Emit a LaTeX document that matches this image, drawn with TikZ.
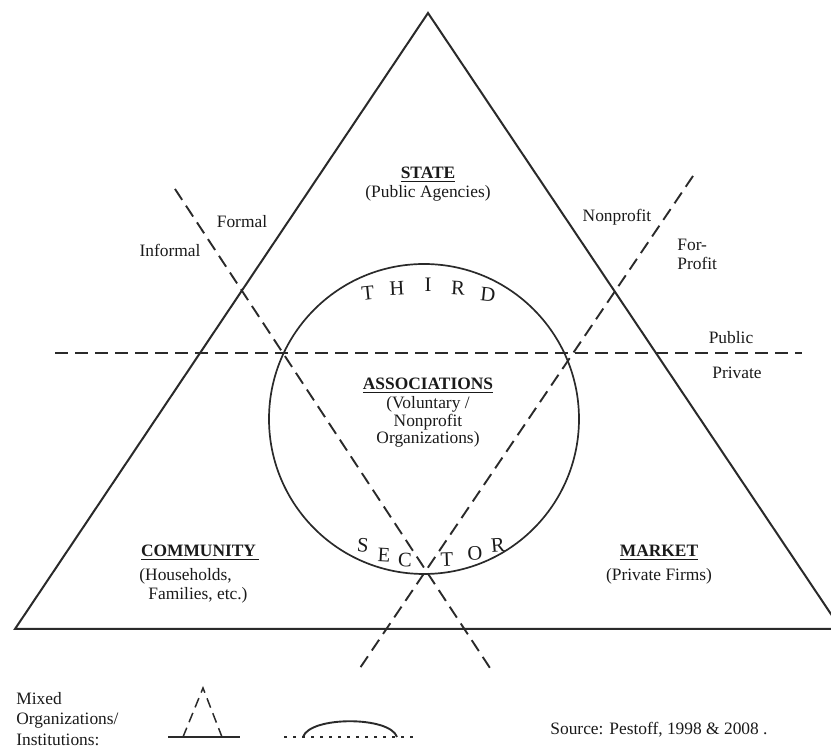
\documentclass[tikz,border=0pt]{standalone}
\usepackage{fontspec}
\setmainfont{Liberation Serif}
\usetikzlibrary{calc}
\definecolor{ink}{HTML}{1A1A1A}
\definecolor{rule}{HTML}{2A2A2A}
\newcommand{\FigBody}{\fontsize{8.7}{9.4}\selectfont}
\newcommand{\FigTight}{\fontsize{8.7}{8.8}\selectfont}
\newcommand{\FigHead}{\FigBody\bfseries}
\newcommand{\FigKey}{\fontsize{8.7}{10.2}\selectfont}
\newcommand{\FigArc}{\fontsize{10.3}{11}\selectfont}
\tikzset{
  frame line/.style={rule, line width=1pt, line join=miter},
  split line/.style={rule, line width=0.95pt, dash pattern=on 6.5pt off 3.5pt},
  lbl/.style={font=\FigBody, ink, inner sep=0pt},
  head/.style={font=\FigHead, ink, inner sep=0pt},
  arc letter/.style={font=\FigArc, ink, inner sep=0pt},
}

\begin{document}
\begin{tikzpicture}[x=0.5pt,y=-0.5pt]
  \useasboundingbox (0,0) rectangle (831,747);
  \clip (0,0) rectangle (831,747);

  % welfare triangle
  \coordinate (apex) at (428,13);
  \coordinate (baseL) at (15,629);
  \coordinate (baseR) at (841,629);
  \draw[frame line] (apex) -- (baseL) -- (baseR) -- cycle;

  % third sector circle
  \coordinate (hub) at (424,419);
  \draw[rule, line width=0.85pt] (hub) circle [radius=155];

  % dividing lines
  \coordinate (publicL) at (55,353);
  \coordinate (publicR) at (802,353);
  \coordinate (formalTop) at (175,189);
  \coordinate (formalEnd) at (490,668);
  \coordinate (profitTop) at (693,176);
  \coordinate (profitEnd) at (360,668);
  \draw[split line] (publicL) -- (publicR);
  \draw[split line] (formalTop) -- (formalEnd);
  \draw[split line] (profitTop) -- (profitEnd);

  % sector headings
  \node[head] (state) at (428,175) {\underline{STATE}};
  \node[lbl] (stateSub) at (428,193) {(Public Agencies)};
  \node[head] (assoc) at (428,386) {\underline{ASSOCIATIONS}};
  \node[lbl, font=\FigTight, align=center] (assocSub) at (428,422) {(Voluntary /\\Nonprofit\\Organizations)};
  \node[head] (community) at (200,553) {\underline{COMMUNITY\,}};
  \node[lbl, align=left, anchor=west] (communitySub) at (139,586) {(Households,\\\hspace*{4.5pt}Families, etc.)};
  \node[head] (market) at (659,553) {\underline{MARKET}};
  \node[lbl] (marketSub) at (659,576) {(Private Firms)};

  % border labels
  \node[lbl] (formal) at (242,222) {Formal};
  \node[lbl] (informal) at (170,250) {Informal};
  \node[lbl] (nonprofit) at (617,217) {Nonprofit};
  \node[lbl, align=left, anchor=west] (forprofit) at (677,254) {For-\\Profit};
  \node[lbl] (public) at (731,338) {Public};
  \node[lbl] (private) at (737,373) {Private};

  % letters round the circle
  \foreach \ch/\px/\py/\rot [count=\i] in {T/368/293/6, H/397/288/3, I/428/285/0, R/458/288/-3, D/488/295/-6}
    \node[arc letter, rotate=\rot] (third\i) at (\px,\py) {\ch};
  \foreach \ch/\px/\py/\rot [count=\i] in {S/363/545/-5, E/384/555/-3, C/405/560/-2, T/447/560/2, O/475/553/3, R/498/545/5}
    \node[arc letter, rotate=\rot] (sector\i) at (\px,\py) {\ch};

  % key
  \node[lbl, font=\FigKey, align=left, anchor=north west] (mixed) at (16,692) {Mixed\\Organizations/\\Institutions:};
  \coordinate (keyL) at (168,737);
  \coordinate (keyR) at (240,737);
  \coordinate (keyTop) at (203,688);
  \draw[rule, line width=0.8pt] (keyL) -- (keyR);
  \draw[split line, line width=0.75pt, dash pattern=on 5pt off 3pt] (183,737) -- (keyTop) -- (222,737);
  \coordinate (domeL) at (303,737);
  \coordinate (domeR) at (397,737);
  \draw[rule, line width=0.6pt, dash pattern=on 1.5pt off 3pt] (284,737) -- (415,737);
  \draw[rule, line width=0.95pt] (domeL) .. controls (310,716) and (390,716) .. (domeR);

  \node[lbl, anchor=west] (source) at (550,730) {Source: Pestoff, 1998 \& 2008 .};
\end{tikzpicture}
\end{document}
